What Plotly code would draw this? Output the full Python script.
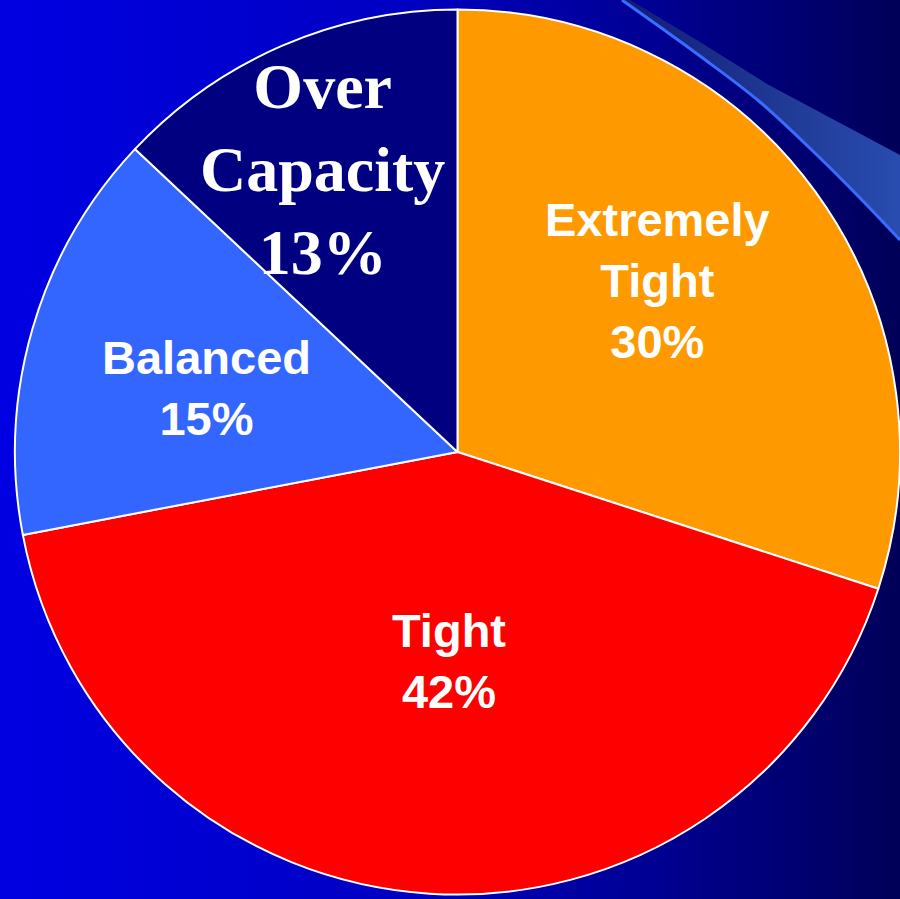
import plotly.graph_objects as go

# ---- data ----
categories = ["Extremely Tight", "Tight", "Balanced", "Over Capacity"]
values = [30, 42, 15, 13]
slice_colors = ["#FF9900", "#FF0000", "#3366FF", "#000080"]

label_lines = {
    "Extremely Tight": "Extremely<br>Tight<br>30%",
    "Tight": "Tight<br>42%",
    "Balanced": "Balanced<br>15%",
    "Over Capacity": "Over<br>Capacity<br>13%",
}

W, H = 900, 899

# decorative swoosh (pixel coords, y downward)
line_x = [622, 660, 700, 760, 820, 860, 900]
line_y = [0, 27, 56, 102, 158, 198, 240]
upper_x = [630, 700, 767, 820, 900]
upper_y = [0, 42, 84, 112, 155]

fig = go.Figure()

# background gradient
fig.add_trace(go.Scatter(
    x=[0, W, W, 0, 0], y=[0, 0, H, H, 0], mode="lines",
    line=dict(width=0), fill="toself",
    fillgradient=dict(type="horizontal",
                      colorscale=[[0, "#0000E2"], [0.45, "#0000C2"],
                                  [0.72, "#000094"], [1, "#000058"]]),
    hoverinfo="skip", showlegend=False))

# swoosh band
fig.add_trace(go.Scatter(
    x=upper_x + line_x[::-1] + [upper_x[0]],
    y=upper_y + line_y[::-1] + [upper_y[0]],
    mode="lines", line=dict(width=0), fill="toself",
    fillgradient=dict(type="horizontal",
                      colorscale=[[0, "#101c78"], [0.5, "#1e3690"], [1, "#284cb0"]]),
    hoverinfo="skip", showlegend=False))
fig.add_trace(go.Scatter(
    x=line_x, y=line_y, mode="lines",
    line=dict(color="#3A6CFF", width=3, shape="spline"),
    hoverinfo="skip", showlegend=False))

# pie (center ~ (463,453), r ~448 in pixels)
fig.add_trace(go.Pie(
    labels=categories, values=values, sort=False, direction="clockwise",
    rotation=0, textinfo="none", hoverinfo="label+percent",
    marker=dict(colors=slice_colors, line=dict(color="white", width=2)),
    domain=dict(x=[15 / W, 1], y=[0, 1 - 5 / H]),
    showlegend=False))

sans = dict(family="Liberation Sans, Arial, sans-serif", size=47, color="white", weight="bold")
serif = dict(family="Liberation Serif, Times New Roman, serif", size=64, color="white", weight="bold")

label_pos = {
    "Extremely Tight": (657, 280, sans),
    "Tight": (449, 661, sans),
    "Balanced": (206, 388, sans),
    "Over Capacity": (322, 169, serif),
}
for cat in categories:
    px, py, f = label_pos[cat]
    fig.add_annotation(x=px, y=py, xref="x", yref="y", text=label_lines[cat],
                       showarrow=False, font=f, xanchor="center", yanchor="middle",
                       align="center")

fig.update_layout(
    width=W, height=H, margin=dict(l=0, r=0, t=0, b=0),
    paper_bgcolor="#0000C0", plot_bgcolor="rgba(0,0,0,0)",
    xaxis=dict(range=[0, W], visible=False, fixedrange=True, domain=[0, 1]),
    yaxis=dict(range=[H, 0], visible=False, fixedrange=True, domain=[0, 1]),
)

fig.write_html(
    "out.html",
    config={"displayModeBar": False},
    post_script="document.body.style.margin='0';document.body.style.overflow='hidden';",
)
